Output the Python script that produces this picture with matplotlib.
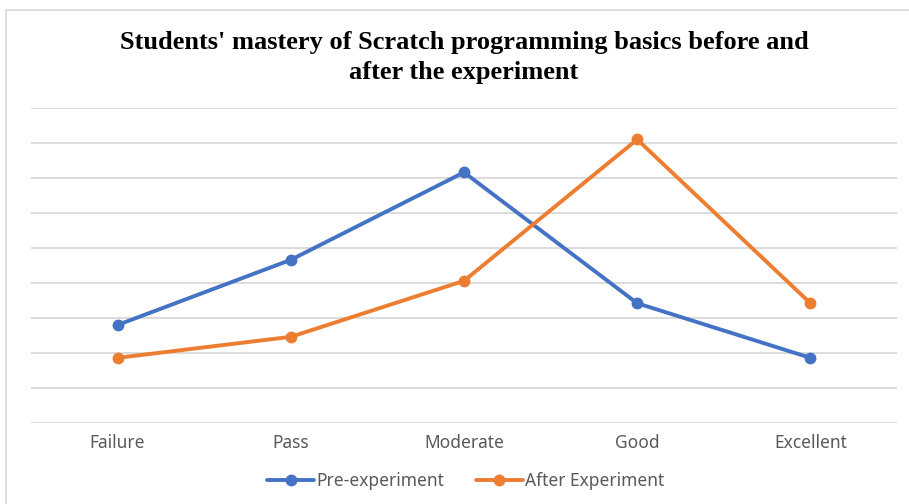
import matplotlib
matplotlib.use("Agg")
import matplotlib.pyplot as plt
from matplotlib.patches import Rectangle

categories = ["Failure", "Pass", "Moderate", "Good", "Excellent"]
pre_experiment = [2.81, 4.67, 7.17, 3.43, 1.87]
after_experiment = [1.87, 2.47, 4.07, 8.11, 3.43]

W, H = 909, 504
fig = plt.figure(figsize=(W / 100, H / 100), dpi=100)
ax = fig.add_axes([31 / W, 1 - 423.3 / H, (897 - 31) / W, (423.3 - 108.3) / H])

x = list(range(len(categories)))
ax.plot(x, pre_experiment, color="#4472C4", lw=2.8, marker="o", ms=7.5,
        label="Pre-experiment", solid_capstyle="round", zorder=3)
ax.plot(x, after_experiment, color="#ED7D31", lw=2.8, marker="o", ms=7.5,
        label="After Experiment", solid_capstyle="round", zorder=3)

ax.set_xlim(-0.5, 4.5)
ax.set_ylim(0, 9)
ax.set_yticks(range(0, 10))
ax.yaxis.grid(True, color="#D9D9D9", lw=1.3)
ax.set_axisbelow(True)
ax.tick_params(axis="y", left=False, labelleft=False)
ax.tick_params(axis="x", bottom=False, pad=4, labelsize=12.5, labelcolor="#595959")
ax.set_xticks(x)
ax.set_xticklabels(categories, family="Noto Sans")
for s in ax.spines.values():
    s.set_visible(False)

fig.text(464 / W, 1 - 57.5 / H,
         "Students' mastery of Scratch programming basics before and\nafter the experiment",
         ha="center", va="center", family="Liberation Serif", weight="bold",
         fontsize=19, linespacing=1.35)

leg = fig.legend(loc="center", bbox_to_anchor=(466 / W, 1 - 481 / H), ncol=2,
                 frameon=False, prop={"family": "Noto Sans", "size": 12.5},
                 handlelength=2.7, handletextpad=0.15, columnspacing=1.8)
for t in leg.get_texts():
    t.set_color("#595959")

fig.patches.append(Rectangle((6 / W, -0.1), 1.0, 1 - 10 / H + 0.1,
                             transform=fig.transFigure, fill=False,
                             edgecolor="#D9D9D9", lw=1.2))

fig.savefig("out.png", dpi=100)
